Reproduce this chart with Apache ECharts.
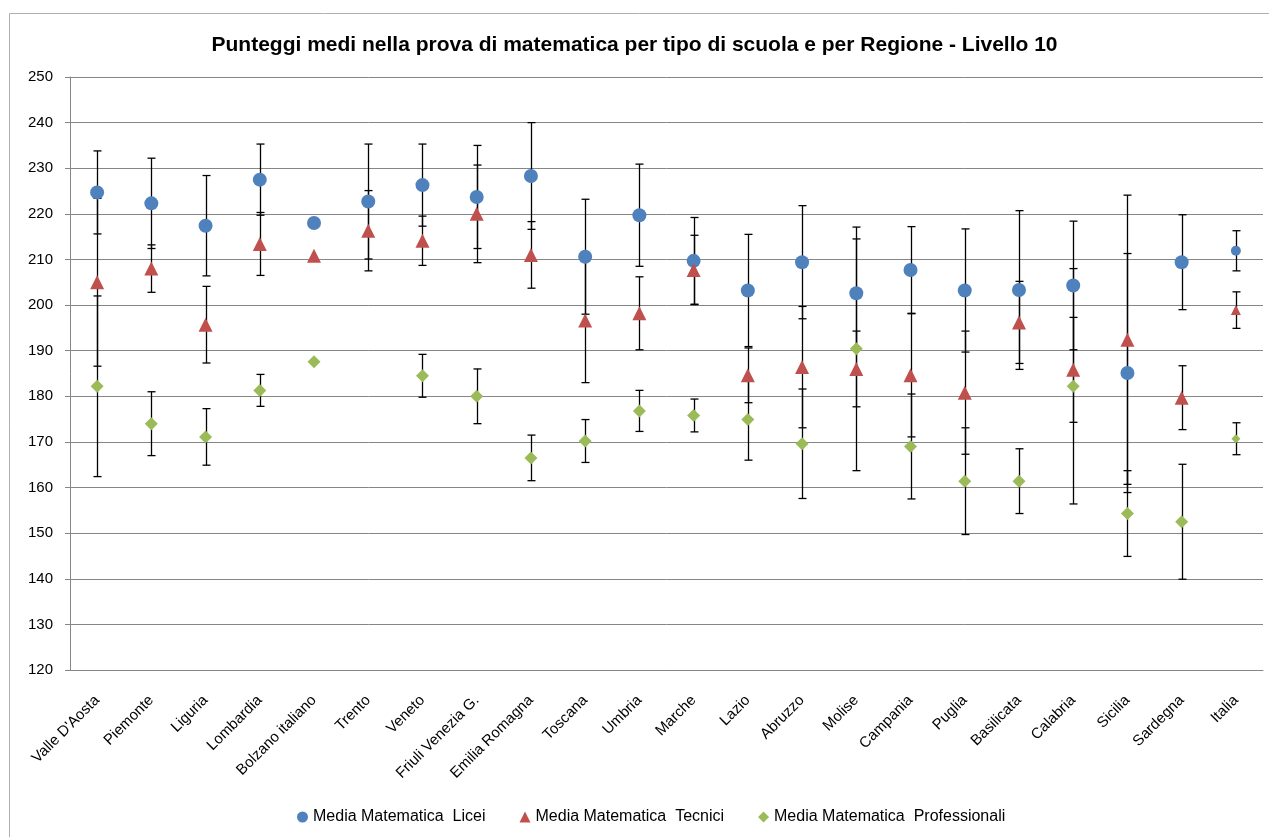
<!DOCTYPE html>
<html>
<head>
<meta charset="utf-8">
<script src="https://cdn.jsdelivr.net/npm/echarts@6/dist/echarts.min.js"></script>
<style>
html,body{margin:0;padding:0;background:#fff;}
#chart{width:1269px;height:837px;}
</style>
</head>
<body>
<div id="chart"></div>
<script>
const titleText = "Punteggi medi nella prova di matematica per tipo di scuola e per Regione - Livello 10";
const categories = ["Valle D'Aosta","Piemonte","Liguria","Lombardia","Bolzano italiano","Trento","Veneto","Friuli Venezia G.","Emilia Romagna","Toscana","Umbria","Marche","Lazio","Abruzzo","Molise","Campania","Puglia","Basilicata","Calabria","Sicilia","Sardegna","Italia"];
const seriesNames = ["Media Matematica  Licei","Media Matematica  Tecnici","Media Matematica  Professionali"];
const licei = [224.7,222.3,217.4,227.5,218.0,222.7,226.3,223.7,228.3,210.6,219.7,209.7,203.2,209.4,202.6,207.7,203.2,203.3,204.3,185.1,209.4,211.9];
const liceiErr = [9.1,9.9,11.0,7.8,null,12.6,9.0,11.3,11.7,12.6,11.2,9.5,12.3,12.4,11.9,9.5,13.5,17.4,14.1,26.2,10.4,4.4];
const tecnici = [205.0,208.0,195.7,213.4,210.8,216.3,214.1,220.0,211.0,196.6,198.2,207.7,184.6,186.4,186.0,184.6,180.8,196.2,185.8,192.4,179.7,198.9];
const tecniciErr = [18.4,5.2,8.4,6.9,null,8.8,5.4,10.7,7.3,13.6,8.0,7.6,6.0,13.3,8.3,13.5,13.5,9.0,11.5,31.7,7.0,4.0];
const professionali = [182.2,174.0,171.1,181.3,187.6,null,184.5,180.0,166.5,170.2,176.8,175.8,174.9,169.6,190.4,169.0,161.4,161.4,182.2,154.3,152.5,170.7];
const professionaliErr = [19.8,7.0,6.2,3.5,null,null,4.7,6.0,5.0,4.7,4.5,3.6,8.9,12.0,26.7,11.5,11.7,7.1,25.8,9.4,12.6,3.5];
const yMin = 120, yMax = 250, yStep = 10;

const FONT = "Liberation Sans";
const colors = ["#4F81BD","#C0504D","#9BBB59"];
const symbols = ["circle","triangle","diamond"];
const sizes = [14,14,13];
const smallSizes = [10,10,9];
const smallIndex = categories.indexOf("Italia");

function errData(means, errs){
  const out = [];
  means.forEach((m,i)=>{
    if(m!=null && errs[i]!=null) out.push([i, m-errs[i], m+errs[i]]);
  });
  return out;
}
function pointData(means, s){
  return means.map((m,i)=>{
    if(m==null) return null;
    return i===smallIndex ? {value:m, symbolSize:smallSizes[s]} : m;
  });
}
function renderErr(params, api){
  const x = api.value(0);
  const lo = api.coord([x, api.value(1)]);
  const hi = api.coord([x, api.value(2)]);
  const cx = Math.round(lo[0]) + 0.5;
  const w = 4;
  const st = {stroke:'#000', lineWidth:1.3};
  return {type:'group', children:[
    {type:'line', shape:{x1:cx,y1:hi[1],x2:cx,y2:lo[1]}, style:st},
    {type:'line', shape:{x1:cx-w,y1:hi[1],x2:cx+w,y2:hi[1]}, style:st},
    {type:'line', shape:{x1:cx-w,y1:lo[1],x2:cx+w,y2:lo[1]}, style:st}
  ]};
}

const means = [licei, tecnici, professionali];
const errs = [liceiErr, tecniciErr, professionaliErr];
const series = [];
means.forEach((m,s)=>{
  series.push({
    type:'custom', name:seriesNames[s]+' err', renderItem:renderErr,
    data:errData(m, errs[s]), encode:{x:0, y:[1,2]}, z:2, silent:true
  });
});
means.forEach((m,s)=>{
  series.push({
    type:'scatter', name:seriesNames[s], symbol:symbols[s], symbolSize:sizes[s],
    itemStyle:{color:colors[s], opacity:1}, data:pointData(m,s), z:5
  });
});

const chart = echarts.init(document.getElementById('chart'), null, {renderer:'canvas'});
chart.setOption({
  animation:false,
  backgroundColor:'#fff',
  title:{text:titleText, left:'center', top:30, textStyle:{fontFamily:FONT, fontSize:21, fontWeight:'bold', color:'#000'}},
  graphic:[{type:'rect', shape:{x:9.5,y:13.5,width:1400,height:1000}, style:{fill:'none', stroke:'#b0b0b0', lineWidth:1}, silent:true, z:-10}],
  grid:{left:70, right:6, top:77, bottom:167, containLabel:false},
  legend:{
    data:seriesNames.map((n,s)=>({name:n, icon:symbols[s]})),
    bottom:7, left:292, itemWidth:11, itemHeight:11, itemGap:34,
    textStyle:{fontFamily:FONT, fontSize:16, color:'#000'}
  },
  xAxis:{
    type:'category', data:categories, boundaryGap:true,
    axisLine:{lineStyle:{color:'#868686'}}, axisTick:{show:false},
    axisLabel:{rotate:45, interval:0, margin:28, fontFamily:FONT, fontSize:15, color:'#000'}
  },
  yAxis:{
    type:'value', min:yMin, max:yMax, interval:yStep,
    axisLine:{show:true, lineStyle:{color:'#868686'}},
    axisTick:{show:true, inside:false, length:5, lineStyle:{color:'#868686'}},
    splitLine:{lineStyle:{color:'#868686', width:1}},
    axisLabel:{margin:17, fontFamily:FONT, fontSize:15, color:'#000'}
  },
  series:series
});
</script>
</body>
</html>
